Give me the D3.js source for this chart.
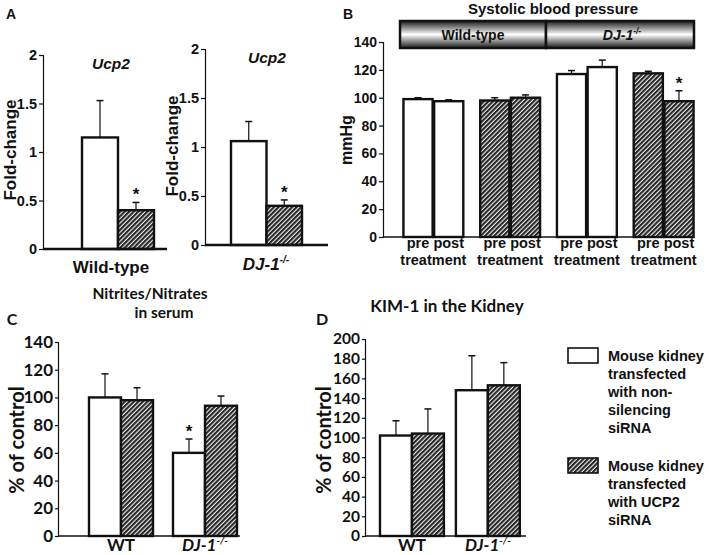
<!DOCTYPE html>
<html><head><meta charset="utf-8">
<script src="https://cdn.jsdelivr.net/npm/d3@7"></script>
<style>
html,body{margin:0;padding:0;background:#fff;}
svg{display:block;}
text{fill:#111;}
</style></head>
<body>
<svg id="chart" width="709" height="555"></svg>
<script>
// ---------- DATA ----------
const aGroups = ["Wild-type", "DJ-1"];
const aControl = [1.15, 1.06];
const aControlErr = [0.38, 0.20];
const aSirna = [0.40, 0.40];
const aSirnaErr = [0.08, 0.06];
const aTicks = [0, 0.5, 1, 1.5, 2];
const aTickLabels = ["0", "0.5", "1", "1.5", "2"];

const bGroups = ["WT-ctrl", "WT-sirna", "DJ-ctrl", "DJ-sirna"];
const bTimes = ["pre", "post"];
const bValues = [99, 97.5, 98, 100, 117, 122, 117.5, 97.5];
const bErr = [1, 1, 2, 2, 2.5, 5, 1.5, 7.5];
const bFill = ["plain", "plain", "hatch", "hatch", "plain", "plain", "hatch", "hatch"];
const bStars = [false, false, false, false, false, false, false, true];
const bTicks = [0, 20, 40, 60, 80, 100, 120, 140];

const cdGroups = ["WT", "DJ-1"];
const cControl = [100, 60];
const cControlErr = [17, 10];
const cSirna = [98, 94];
const cSirnaErr = [9, 7];
const cTicks = [0, 20, 40, 60, 80, 100, 120, 140];

const dControl = [102, 148];
const dControlErr = [15, 35];
const dSirna = [104, 153];
const dSirnaErr = [25, 23];
const dTicks = [0, 20, 40, 60, 80, 100, 120, 140, 160, 180, 200];

const legendItems = [
  {fill: "plain", lines: ["Mouse kidney", "transfected", "with non-", "silencing", "siRNA"]},
  {fill: "hatch", lines: ["Mouse kidney", "transfected", "with UCP2", "siRNA"]}
];

// ---------- SETUP ----------
const ARIAL = "'Liberation Sans', Arial, sans-serif";
const CAL = "Lato, 'Open Sans', sans-serif";
const svg = d3.select("#chart");
const defs = svg.append("defs");
const pat = defs.append("pattern").attr("id", "hatch")
  .attr("patternUnits", "userSpaceOnUse").attr("width", 3.2).attr("height", 3.2)
  .attr("patternTransform", "rotate(45)");
pat.append("rect").attr("width", 3.2).attr("height", 3.2).attr("fill", "#f2f2f2");
pat.append("rect").attr("width", 2.1).attr("height", 3.2).attr("fill", "#262626");

const grad = defs.append("linearGradient").attr("id", "hdr").attr("x1", 0).attr("y1", 0).attr("x2", 0).attr("y2", 1);
grad.append("stop").attr("offset", "0%").attr("stop-color", "#1a1a1a");
grad.append("stop").attr("offset", "50%").attr("stop-color", "#ffffff");
grad.append("stop").attr("offset", "100%").attr("stop-color", "#1a1a1a");

const fillOf = f => f === "hatch" ? "url(#hatch)" : "#fff";

function yAxis(y, x0, ticks, labels, font, size, tickLen) {
  const ax = d3.axisLeft(y).tickValues(ticks).tickSize(tickLen).tickPadding(2)
    .tickFormat((d, i) => labels ? labels[i] : d);
  const g = svg.append("g").attr("transform", `translate(${x0},0)`).call(ax);
  g.select(".domain").attr("stroke", "#111").attr("stroke-width", 1.2);
  g.selectAll(".tick line").attr("stroke", "#111").attr("stroke-width", 1.2);
  g.selectAll(".tick text").attr("font-family", font).attr("font-size", size)
    .attr("font-weight", "bold").attr("fill", "#111");
  return g;
}

function bar(x, w, y, v, err, fill, star) {
  const g = svg.append("g");
  const y0 = y(0);
  const cx = x + w / 2;
  if (err > 0) {
    g.append("line").attr("x1", cx).attr("x2", cx).attr("y1", y(v)).attr("y2", y(v + err))
      .attr("stroke", "#111").attr("stroke-width", 1.2);
    g.append("line").attr("x1", cx - 3.5).attr("x2", cx + 3.5).attr("y1", y(v + err)).attr("y2", y(v + err))
      .attr("stroke", "#111").attr("stroke-width", 1.5);
  }
  g.append("rect").attr("x", x).attr("y", y(v)).attr("width", w).attr("height", y0 - y(v))
    .attr("fill", fillOf(fill)).attr("stroke", "#111").attr("stroke-width", 2.4);
  if (star) {
    g.append("text").attr("x", cx).attr("y", y(v + err) - 2).attr("text-anchor", "middle")
      .attr("font-family", ARIAL).attr("font-weight", "bold").attr("font-size", 17).text("*");
  }
}

function txt(x, y, s, opts = {}) {
  const t = svg.append("text").attr("x", x).attr("y", y)
    .attr("text-anchor", opts.anchor || "middle")
    .attr("font-family", opts.font || ARIAL).attr("font-weight", "bold")
    .attr("font-size", opts.size || 14);
  if (opts.italic) t.attr("font-style", "italic");
  if (opts.rotate) t.attr("transform", `rotate(-90,${x},${y})`);
  t.text(s);
  return t;
}

function djLabel(x, y, size, font) {
  const t = svg.append("text").attr("x", x).attr("y", y).attr("text-anchor", "middle")
    .attr("font-family", font).attr("font-weight", "bold").attr("font-style", "italic").attr("font-size", size);
  t.append("tspan").text("DJ-1");
  t.append("tspan").attr("dy", -size * 0.4).attr("font-size", size * 0.6).text("-/-");
}

// ---------- PANEL A ----------
txt(11, 19, "A", {size: 14});
const aPanels = [
  {axisX: 43, y0: 249, y2: 55, bars: [82, 154], axisEnd: 167, ylabX: 16, ylabY: 150, titleX: 111, titleY: 69},
  {axisX: 205, y0: 245, y2: 49, bars: [231, 302], axisEnd: 328, ylabX: 178, ylabY: 146, titleX: 267, titleY: 63}
];
aPanels.forEach((p, i) => {
  const y = d3.scaleLinear().domain([0, 2]).range([p.y0, p.y2]);
  const x = d3.scaleBand().domain(["ctrl", "sirna"]).range(p.bars);
  yAxis(y, p.axisX, aTicks, aTickLabels, ARIAL, 14.5, 4);
  bar(x("ctrl"), x.bandwidth(), y, aControl[i], aControlErr[i], "plain", false);
  bar(x("sirna"), x.bandwidth(), y, aSirna[i], aSirnaErr[i], "hatch", true);
  svg.append("line").attr("x1", p.axisX).attr("x2", p.axisEnd).attr("y1", y(0)).attr("y2", y(0))
    .attr("stroke", "#111").attr("stroke-width", 2.4);
  txt(p.ylabX, p.ylabY, "Fold-change", {size: 17, rotate: true});
  txt(p.titleX, p.titleY, "Ucp2", {size: 15.5, italic: true});
  if (i === 0) txt(111, 273, aGroups[0], {size: 17});
  else djLabel(266, 270, 17, ARIAL);
});

// ---------- PANEL B ----------
txt(348, 19, "B", {size: 14});
const yB = d3.scaleLinear().domain([0, 140]).range([237, 42]);
yAxis(yB, 383, bTicks, null, ARIAL, 14, 4);
const gx = d3.scaleBand().domain(bGroups).range([395, 702]).paddingInner(0.22).paddingOuter(0.11);
const ix = d3.scaleBand().domain(bTimes).range([0, gx.bandwidth()]).paddingInner(0.05);
bGroups.forEach((g, gi) => {
  bTimes.forEach((t, ti) => {
    const k = gi * 2 + ti;
    bar(gx(g) + ix(t), ix.bandwidth(), yB, bValues[k], bErr[k], bFill[k], bStars[k]);
    txt(gx(g) + ix(t) + ix.bandwidth() / 2, 248, t, {size: 14.5});
  });
  txt(gx(g) + gx.bandwidth() / 2, 265, "treatment", {size: 14.5});
});
svg.append("line").attr("x1", 383).attr("x2", 694).attr("y1", yB(0)).attr("y2", yB(0))
  .attr("stroke", "#111").attr("stroke-width", 1.5);
txt(352, 140, "mmHg", {size: 16, rotate: true});
txt(553, 14, "Systolic blood pressure", {size: 15});
// header bar
svg.append("rect").attr("x", 400).attr("y", 21).attr("width", 146).attr("height", 27)
  .attr("fill", "url(#hdr)").attr("stroke", "#111").attr("stroke-width", 2.5);
svg.append("rect").attr("x", 546).attr("y", 21).attr("width", 148).attr("height", 27)
  .attr("fill", "url(#hdr)").attr("stroke", "#111").attr("stroke-width", 2.5);
txt(473, 40, "Wild-type", {size: 14});
djLabel(622, 40, 14, ARIAL);

// ---------- PANEL C ----------
txt(12, 325, "C", {font: CAL, size: 16});
txt(150, 299, "Nitrites/Nitrates", {font: CAL, size: 15.5});
txt(164, 318, "in serum", {font: CAL, size: 15.5});
const yC = d3.scaleLinear().domain([0, 140]).range([536, 342]);
yAxis(yC, 58, cTicks, null, CAL, 17, 3);
const gC = d3.scaleBand().domain(cdGroups).range([68, 258]).paddingInner(0.238).paddingOuter(0.25);
const iC = d3.scaleBand().domain(["ctrl", "sirna"]).range([0, gC.bandwidth()]);
cdGroups.forEach((g, i) => {
  bar(gC(g) + iC("ctrl"), iC.bandwidth(), yC, cControl[i], cControlErr[i], "plain", i === 1);
  bar(gC(g) + iC("sirna"), iC.bandwidth(), yC, cSirna[i], cSirnaErr[i], "hatch", false);
});
svg.append("line").attr("x1", 58).attr("x2", 240).attr("y1", yC(0)).attr("y2", yC(0))
  .attr("stroke", "#111").attr("stroke-width", 1.5);
txt(gC("WT") + gC.bandwidth() / 2, 551, "WT", {font: CAL, size: 17});
djLabel(gC("DJ-1") + gC.bandwidth() / 2, 551, 17, CAL);
txt(24, 440, "% of control", {font: CAL, size: 20, rotate: true});

// ---------- PANEL D ----------
txt(322, 325, "D", {font: CAL, size: 16});
txt(447, 312, "KIM-1 in the Kidney", {font: CAL, size: 17});
const yD = d3.scaleLinear().domain([0, 200]).range([536, 339]);
yAxis(yD, 365, dTicks, null, CAL, 15.5, 3);
const gD = d3.scaleBand().domain(cdGroups).range([364.8, 535]).paddingInner(0.158).paddingOuter(0.2);
const iD = d3.scaleBand().domain(["ctrl", "sirna"]).range([0, gD.bandwidth()]);
cdGroups.forEach((g, i) => {
  bar(gD(g) + iD("ctrl"), iD.bandwidth(), yD, dControl[i], dControlErr[i], "plain", false);
  bar(gD(g) + iD("sirna"), iD.bandwidth(), yD, dSirna[i], dSirnaErr[i], "hatch", false);
});
svg.append("line").attr("x1", 365).attr("x2", 526).attr("y1", yD(0)).attr("y2", yD(0))
  .attr("stroke", "#111").attr("stroke-width", 1.5);
txt(gD("WT") + gD.bandwidth() / 2, 551, "WT", {font: CAL, size: 17});
djLabel(gD("DJ-1") + gD.bandwidth() / 2, 551, 17, CAL);
txt(331, 440, "% of control", {font: CAL, size: 20, rotate: true});

// ---------- LEGEND ----------
const legTop = [348, 458];
legendItems.forEach((it, i) => {
  svg.append("rect").attr("x", 568).attr("y", legTop[i]).attr("width", 30).attr("height", 15)
    .attr("fill", fillOf(it.fill)).attr("stroke", "#111").attr("stroke-width", 1.6);
  it.lines.forEach((l, j) => {
    txt(608, legTop[i] + 13 + j * 18, l, {anchor: "start", size: 14.5});
  });
});
</script>
</body></html>
